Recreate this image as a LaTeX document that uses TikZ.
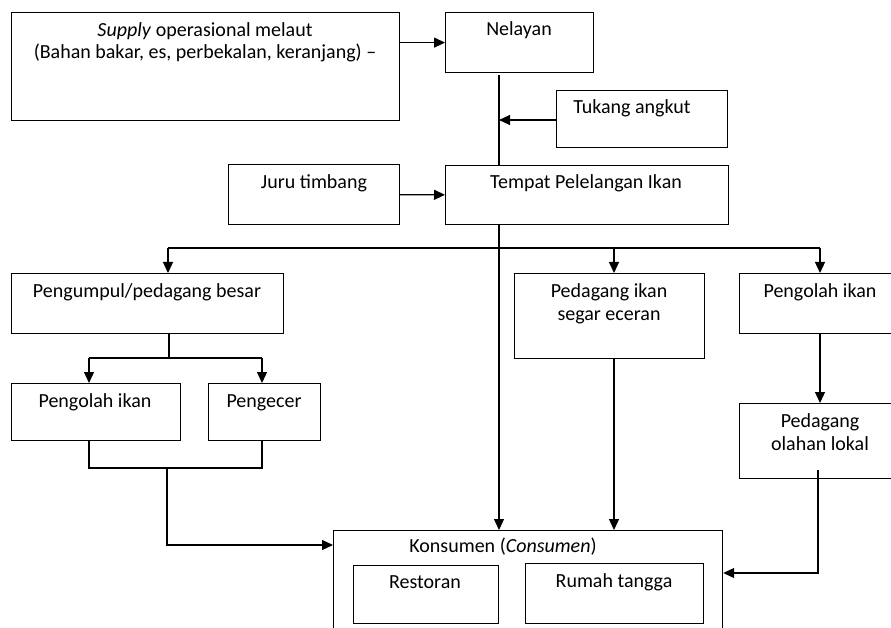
\documentclass[tikz,border=0pt]{standalone}
\usepackage{fontspec}
\setmainfont{Carlito}
\usetikzlibrary{arrows.meta,calc}
\begin{document}
\begin{tikzpicture}[x=1pt,y=-1pt,
  box/.style={draw, line width=1.2pt, inner sep=0pt, anchor=north west},
  lbl/.style={font=\fontsize{20}{22.5}\selectfont, inner sep=0pt, align=center, anchor=base},
  arr/.style={line width=1.2pt, -{Triangle[length=11pt,width=10pt]}},
  ln/.style={line width=1.2pt}]
\useasboundingbox (0,0) rectangle (891,628);
\clip (0,0) rectangle (891,628);
\fill[white] (0,0) rectangle (891,628);
% boxes
\node[box, minimum width=388, minimum height=108] (sup) at (11,12) {};
\node[box, minimum width=148, minimum height=60] (nel) at (445,12) {};
\node[box, minimum width=171, minimum height=57] (tuk) at (556,90) {};
\node[box, minimum width=283, minimum height=59] (tpi) at (445,165) {};
\node[box, minimum width=171, minimum height=60] (juru) at (228,164) {};
\node[box, minimum width=272, minimum height=60] (pgb) at (11,273) {};
\node[box, minimum width=190, minimum height=85] (pse) at (514,273) {};
\node[box, minimum width=162, minimum height=60] (poR) at (739,273) {};
\node[box, minimum width=169, minimum height=57] (poL) at (11,383) {};
\node[box, minimum width=112, minimum height=57] (pec) at (208,383) {};
\node[box, minimum width=162, minimum height=75] (pol) at (739,403) {};
\node[box, minimum width=389, minimum height=120] (kon) at (333,530) {};
\node[box, minimum width=145, minimum height=58] (res) at (353,565) {};
\node[box, minimum width=178, minimum height=60] (rum) at (525,563) {};
% texts (anchor=base is the baseline of the last line)
\node[lbl] (tsup) at (205,59) {\textit{Supply} operasional melaut\\(Bahan bakar, es, perbekalan, keranjang) –};
\node[lbl] (tnel) at (519,36) {Nelayan};
\node[lbl] (ttuk) at (632,114) {Tukang angkut};
\node[lbl] (ttpi) at (586,189) {Tempat Pelelangan Ikan};
\node[lbl] (tjuru) at (314,189) {Juru timbang};
\node[lbl] (tpgb) at (147,297) {Pengumpul/pedagang besar};
\node[lbl] (tpse) at (609,320) {Pedagang ikan\\segar eceran};
\node[lbl] (tpoR) at (820,297) {Pengolah ikan};
\node[lbl] (tpoL) at (95,407) {Pengolah ikan};
\node[lbl] (tpec) at (264,407) {Pengecer};
\node[lbl] (tpol) at (820,450) {Pedagang\\olahan lokal};
\node[lbl] (tkon) at (503,552) {Konsumen (\textit{Consumen})};
\node[lbl] (tres) at (425,588) {Restoran};
\node[lbl] (trum) at (614,587) {Rumah tangga};
% connectors
\draw[arr] (nel.west -| sup.east) -- (nel.west);
\coordinate (vtop) at ([xshift=54pt,yshift=-2pt]nel.south west);
\coordinate (vmid) at ([xshift=54pt]tpi.north west);
\draw[ln] (vtop) -- (vmid);
\draw[arr] (tuk.west |- 0,120) -- (vtop |- 0,120);
\draw[arr] (juru) -- (tpi);
\coordinate (vbot) at ([xshift=54pt]tpi.south west);
\draw[arr] (vbot) -- (vbot |- kon.north);
% bus to second level
\coordinate (b1) at (168,248);
\coordinate (b2) at (614,248);
\coordinate (b3) at (820,248);
\draw[ln] (b1) -- (b3);
\draw[arr] (b1) -- (b1 |- pgb.north);
\draw[arr] (b2) -- (b2 |- pse.north);
\draw[arr] (b3) -- (b3 |- poR.north);
% pengumpul branches
\coordinate (c0) at (169,358);
\coordinate (c1) at (89,358);
\coordinate (c2) at (262,358);
\draw[ln] (c0 |- pgb.south) -- (c0);
\draw[ln] (c1) -- (c2);
\draw[arr] (c1) -- (c1 |- poL.north);
\draw[arr] (c2) -- (c2 |- pec.north);
% merge to konsumen
\coordinate (d1) at (89,468);
\coordinate (d2) at (262,468);
\coordinate (d0) at (167,468);
\coordinate (d3) at (167,545);
\draw[ln] (d1 |- poL.south) -- (d1) -- (d2) -- (d2 |- pec.south);
\draw[arr] (d0) -- (d3) -- (d3 -| kon.west);
% pedagang segar to konsumen
\draw[arr] (b2 |- pse.south) -- (b2 |- kon.north);
% pengolah to pedagang olahan
\draw[arr] (b3 |- poR.south) -- (b3 |- pol.north);
% pedagang olahan to konsumen
\coordinate (e0) at (818,470);
\coordinate (e1) at (818,573);
\draw[arr] (e0) -- (e1) -- (e1 -| kon.east);
\end{tikzpicture}
\end{document}
